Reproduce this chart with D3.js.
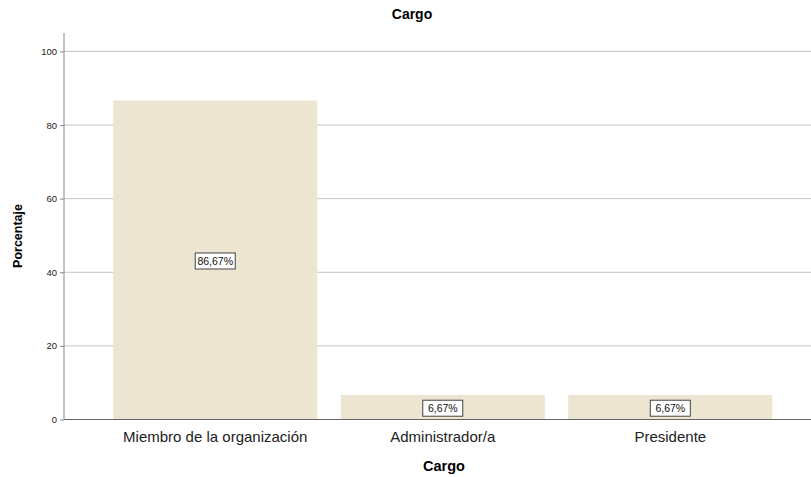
<!DOCTYPE html>
<html>
<head>
<meta charset="utf-8">
<script src="https://cdn.jsdelivr.net/npm/d3@7"></script>
<style>
  body { margin: 0; background: #fff; }
  text { font-family: Arial, "Liberation Sans", sans-serif; }
</style>
</head>
<body>
<div id="grafico"></div>
<script>
var categorias = ["Miembro de la organización", "Administrador/a", "Presidente"];
var porcentajes = [86.67, 6.67, 6.67];
var etiquetas = ["86,67%", "6,67%", "6,67%"];
var ticksY = [0, 20, 40, 60, 80, 100];

var largeur = 811, hauteur = 477;
var svg = d3.select("#grafico").append("svg")
  .attr("width", largeur).attr("height", hauteur);

var gauche = 64, droite = 811, haut = 33, bas = 419.5;

var x = d3.scaleBand().domain(categorias).range([gauche, droite])
  .paddingInner(0.103).paddingOuter(0.193).align(0.56);
var y = d3.scaleLinear().domain([0, 105]).range([bas, haut]);

// grille
svg.append("g").selectAll("line").data(ticksY.filter(function(d) { return d > 0; }))
  .enter().append("line")
  .attr("x1", gauche).attr("x2", droite)
  .attr("y1", function(d) { return y(d); }).attr("y2", function(d) { return y(d); })
  .attr("stroke", "#c4c4c4").attr("stroke-width", 1);

// barres
svg.append("g").selectAll("rect").data(porcentajes).enter().append("rect")
  .attr("x", function(d, i) { return x(categorias[i]); })
  .attr("width", x.bandwidth())
  .attr("y", function(d) { return y(d); })
  .attr("height", function(d) { return bas - y(d); })
  .attr("fill", "#ece5d1");

// axe y
var axeY = svg.append("g").attr("transform", "translate(" + gauche + ",0)")
  .call(d3.axisLeft(y).tickValues(ticksY).tickSize(4).tickPadding(3));
axeY.select(".domain").attr("stroke", "#888").attr("d", "M0," + haut + "V" + bas);
axeY.selectAll(".tick line").attr("stroke", "#888");
axeY.selectAll(".tick text").attr("font-size", "9.5px").attr("fill", "#222")
  .attr("font-family", "Arial, 'Liberation Sans', sans-serif");

// axe x
svg.append("line").attr("x1", gauche).attr("x2", droite)
  .attr("y1", bas).attr("y2", bas).attr("stroke", "#666");

svg.append("g").selectAll("text").data(categorias).enter().append("text")
  .attr("x", function(d) { return x(d) + x.bandwidth() / 2; })
  .attr("y", 442)
  .attr("text-anchor", "middle")
  .attr("font-size", "15px").attr("fill", "#222")
  .text(function(d) { return d; });

// etiquettes de valeur
var lab = svg.append("g").selectAll("g").data(porcentajes).enter().append("g")
  .attr("transform", function(d, i) {
    return "translate(" + (x(categorias[i]) + x.bandwidth() / 2) + "," + (y(d / 2) + 1) + ")";
  });
lab.append("rect").attr("x", -20).attr("y", -8).attr("width", 40).attr("height", 16)
  .attr("fill", "#fff").attr("stroke", "#444").attr("stroke-width", 1);
lab.append("text").attr("text-anchor", "middle").attr("dy", "0.36em")
  .attr("font-size", "10.5px").attr("fill", "#111")
  .text(function(d, i) { return etiquetas[i]; });

// titres
svg.append("text").attr("x", 412).attr("y", 19).attr("text-anchor", "middle")
  .attr("font-size", "14px").attr("font-weight", "bold").text("Cargo");
svg.append("text").attr("x", 444).attr("y", 471).attr("text-anchor", "middle")
  .attr("font-size", "14.5px").attr("font-weight", "bold").text("Cargo");
svg.append("text").attr("transform", "translate(22,236) rotate(-90)")
  .attr("text-anchor", "middle")
  .attr("font-size", "12.5px").attr("font-weight", "bold").text("Porcentaje");
</script>
</body>
</html>
